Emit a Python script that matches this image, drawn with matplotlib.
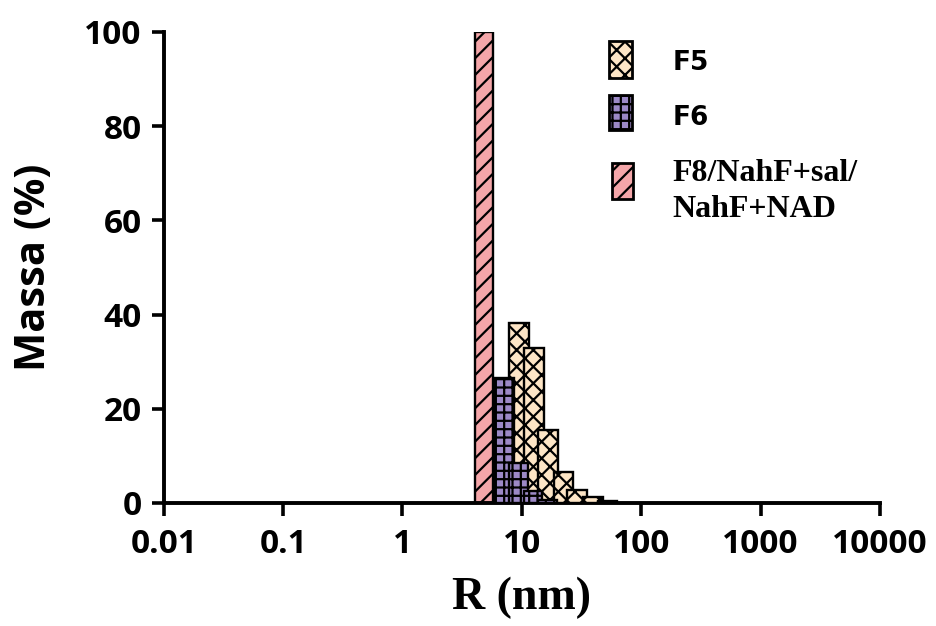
import numpy as np
import matplotlib
matplotlib.use('Agg')
import matplotlib.pyplot as plt
from matplotlib.patches import Rectangle
from matplotlib.ticker import FixedLocator, FixedFormatter, NullLocator

# bar centres (nm) and mass (%)
f8_r = [4.79]
f8_mass = [100.0]

f6_r = [7.13, 9.44, 12.4, 16.5]
f6_mass = [26.5, 8.4, 2.6, 0.6]

f5_r = [9.44, 12.65, 16.6, 22.3, 29.1, 39.4, 52.1]
f5_mass = [38.3, 32.8, 15.5, 6.5, 2.8, 1.2, 0.4]

xticks = [0.01, 0.1, 1, 10, 100, 1000, 10000]
xticklabels = ['0.01', '0.1', '1', '10', '100', '1000', '10000']
yticks = [0, 20, 40, 60, 80, 100]

styles = {
    'F5': dict(facecolor='#FDE5C6', hatch='xx'),
    'F6': dict(facecolor='#9C89C6', hatch='++'),
    'F8': dict(facecolor='#F4A6A9', hatch='//'),
}

plt.rcParams['hatch.linewidth'] = 1.6


def log_bars(ax, centres, heights, width_dec, **kw):
    # bars of constant width on a log axis
    c = np.array(centres)
    left = c / 10 ** (width_dec / 2)
    right = c * 10 ** (width_dec / 2)
    return ax.bar(left, heights, width=right - left, align='edge', **kw)


fig = plt.figure(figsize=(9.36, 6.26), dpi=100)
ax = fig.add_axes([0.175, 0.1965, 0.765, 0.7525])
ax.set_xscale('log')

log_bars(ax, f8_r, f8_mass, 0.148, edgecolor='black', linewidth=1.7, zorder=2, **styles['F8'])
log_bars(ax, f5_r, f5_mass, 0.165, edgecolor='black', linewidth=1.7, zorder=3, **styles['F5'])
log_bars(ax, f6_r, f6_mass, 0.158, edgecolor='black', linewidth=1.7, zorder=4, **styles['F6'])

ax.set_xlim(0.01, 10000)
ax.set_ylim(0, 100)
ax.xaxis.set_major_locator(FixedLocator(xticks))
ax.xaxis.set_major_formatter(FixedFormatter(xticklabels))
ax.xaxis.set_minor_locator(NullLocator())
ax.set_yticks(yticks)

for s in ['top', 'right']:
    ax.spines[s].set_visible(False)
for s in ['left', 'bottom']:
    ax.spines[s].set_linewidth(2.8)
    ax.spines[s].set_capstyle('projecting')
ax.tick_params(axis='both', which='major', length=9, width=2.6, direction='out')
ax.tick_params(axis='x', pad=9)
ax.tick_params(axis='y', pad=7)
for lab in ax.get_xticklabels() + ax.get_yticklabels():
    lab.set_fontfamily('Open Sans')
    lab.set_fontweight('bold')
    lab.set_fontsize(24)

ax.set_ylabel('Massa (%)', fontfamily='Open Sans', fontweight='bold', fontsize=30)
ax.yaxis.set_label_coords(-0.152, 0.5)
ax.set_xlabel('R (nm)', fontfamily='Liberation Serif', fontweight='bold', fontsize=33)
ax.xaxis.set_label_coords(0.5, -0.157)

# legend drawn by hand: (name, patch box in axes fraction)
legend_boxes = [
    ('F5', (0.6215, 0.9023, 0.0321, 0.0786)),
    ('F6', (0.6215, 0.7920, 0.0321, 0.0743)),
    ('F8', (0.6257, 0.6454, 0.0293, 0.0764)),
]
for name, (x0, y0, w, h) in legend_boxes:
    ax.add_patch(Rectangle((x0, y0), w, h, transform=ax.transAxes,
                           edgecolor='black', linewidth=2.0, clip_on=False,
                           zorder=5, **styles[name]))

tx = (673 - 164) / 716
ax.text(tx, 0.9193, 'F5', transform=ax.transAxes, va='baseline', ha='left',
        fontfamily='DejaVu Sans', fontweight='bold', fontsize=19)
ax.text(tx, 0.8025, 'F6', transform=ax.transAxes, va='baseline', ha='left',
        fontfamily='DejaVu Sans', fontweight='bold', fontsize=19)
ax.text(tx, 0.6837, 'F8/NahF+sal/', transform=ax.transAxes, va='baseline', ha='left',
        fontfamily='Liberation Serif', fontweight='bold', fontsize=23)
ax.text(tx, 0.6072, 'NahF+NAD', transform=ax.transAxes, va='baseline', ha='left',
        fontfamily='Liberation Serif', fontweight='bold', fontsize=23)

fig.savefig('out.png', dpi=100)
